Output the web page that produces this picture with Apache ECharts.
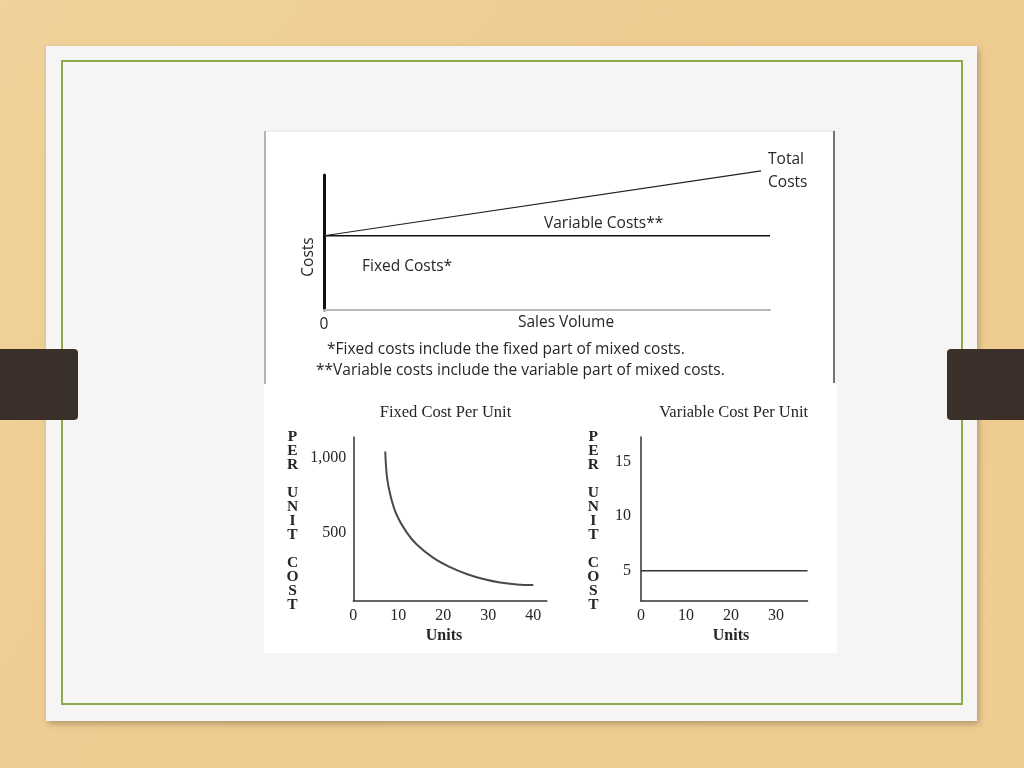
<!DOCTYPE html>
<html>
<head>
<meta charset="utf-8">
<script src="https://cdn.jsdelivr.net/npm/echarts@6/dist/echarts.min.js"></script>
<style>
  html, body { margin: 0; padding: 0; }
  #chart { width: 1024px; height: 768px; }
</style>
</head>
<body>
<div id="chart"></div>
<script>
// top chart: cost behaviour vs sales volume (relative units)
const fixedLineX = [0, 100];
const fixedLineY = [55, 55];
const totalLineX = [0, 98];
const totalLineY = [55, 103];

// fixed cost per unit curve
const fixedUnits = [7.1, 7.5, 8.3, 9.6, 11.9, 14.1, 17.8, 21.5, 25.2, 28.9, 32.6, 36.3, 40];
const fixedPerUnit = [1045, 870, 745, 622, 500, 420, 330, 268, 222, 188, 165, 152, 148];
const fixedXTicks = [0, 10, 20, 30, 40];
const fixedYTicks = [500, 1000];

// variable cost per unit
const varUnits = [0, 37];
const varPerUnit = [5, 5];
const varXTicks = [0, 10, 20, 30];
const varYTicks = [5, 10, 15];

const sans = '"Open Sans", sans-serif';
const serif = '"Liberation Serif", serif';
const ink = '#262626';
const sansSize = 15.5;

const pairs = (xs, ys) => xs.map((x, i) => [x, ys[i]]);

const chart = echarts.init(document.getElementById('chart'));

const txt = (text, x, y, opts) => Object.assign({
  type: 'text', x: x, y: y, z: 20,
  style: Object.assign({ text: text, fill: ink, font: sansSize + 'px ' + sans,
    textAlign: 'left', textVerticalAlign: 'middle' }, (opts && opts.style) || {})
}, opts && opts.el ? opts.el : {});

const vertLabel = 'P\nE\nR\n\nU\nN\nI\nT\n\nC\nO\nS\nT';

const option = {
  animation: false,
  backgroundColor: 'transparent',
  graphic: [
    // wood background
    { type: 'rect', z: -20, shape: { x: 0, y: 0, width: 1024, height: 768 },
      style: { fill: new echarts.graphic.LinearGradient(0, 0, 1, 1, [
        { offset: 0, color: '#f0d39c' }, { offset: 0.5, color: '#eecb8f' }, { offset: 1, color: '#efcd91' }]) } },
    // card
    { type: 'rect', z: -19, shape: { x: 46, y: 46, width: 931, height: 675 },
      style: { fill: '#f5f5f5', shadowBlur: 6, shadowOffsetX: 2, shadowOffsetY: 3, shadowColor: 'rgba(0,0,0,0.25)' } },
    { type: 'rect', z: -18, shape: { x: 62, y: 61, width: 900, height: 643 },
      style: { fill: 'none', stroke: '#8aab45', lineWidth: 2 } },
    // picture panels
    { type: 'rect', z: -17, shape: { x: 264, y: 383, width: 573, height: 270 }, style: { fill: '#ffffff' } },
    { type: 'rect', z: -17, shape: { x: 265, y: 131, width: 570, height: 253 }, style: { fill: '#ffffff' } },
    { type: 'line', z: -16, shape: { x1: 265, y1: 131, x2: 265, y2: 384 }, style: { stroke: '#9a9a9a', lineWidth: 1.5 } },
    { type: 'line', z: -16, shape: { x1: 265, y1: 131, x2: 835, y2: 131 }, style: { stroke: '#e2e2e2', lineWidth: 1 } },
    { type: 'line', z: -16, shape: { x1: 834, y1: 131, x2: 834, y2: 383 }, style: { stroke: '#444444', lineWidth: 1.5 } },
    // side tabs
    { type: 'rect', z: 30, shape: { x: 0, y: 349, width: 78, height: 71, r: [0, 4, 4, 0] }, style: { fill: '#3a3029' } },
    { type: 'rect', z: 30, shape: { x: 947, y: 349, width: 77, height: 71, r: [4, 0, 0, 4] }, style: { fill: '#3a3029' } },

    // top chart texts
    txt('Variable Costs**', 544, 224),
    txt('Fixed Costs*', 362, 267),
    txt('Costs', 309, 257, { el: { rotation: Math.PI / 2 }, style: { textAlign: 'center' } }),
    txt('Sales Volume', 566, 323, { style: { textAlign: 'center' } }),
    txt('*Fixed costs include the fixed part of mixed costs.', 327, 350),
    txt('**Variable costs include the variable part of mixed costs.', 316, 371),

    // bottom chart texts
    txt('Fixed Cost Per Unit', 445.5, 413, { style: { textAlign: 'center', font: '16.5px ' + serif } }),
    txt('Variable Cost Per Unit', 733.7, 413, { style: { textAlign: 'center', font: '16.5px ' + serif } }),
    txt('Units', 444, 636, { style: { textAlign: 'center', font: 'bold 16px ' + serif } }),
    txt('Units', 731, 636, { style: { textAlign: 'center', font: 'bold 16px ' + serif } }),
    txt(vertLabel, 292.5, 430, { style: { textAlign: 'center', textVerticalAlign: 'top', font: 'bold 15.5px ' + serif, lineHeight: 14 } }),
    txt(vertLabel, 593.3, 430, { style: { textAlign: 'center', textVerticalAlign: 'top', font: 'bold 15.5px ' + serif, lineHeight: 14 } })
  ],
  grid: [
    { left: 324, top: 175, width: 446, height: 135 },
    { left: 353.3, top: 437, width: 193.5, height: 163.5 },
    { left: 641, top: 437, width: 166.5, height: 164 }
  ],
  xAxis: [
    { type: 'value', gridIndex: 0, min: 0, max: 100,
      axisLine: { onZero: false, lineStyle: { color: '#b8b8b8', width: 2 } },
      axisTick: { show: false }, splitLine: { show: false },
      axisLabel: { customValues: [0], margin: 7, color: ink, fontFamily: sans, fontSize: sansSize } },
    { type: 'value', gridIndex: 1, min: 0, max: 43,
      axisLine: { onZero: false, lineStyle: { color: '#333', width: 1.5 } },
      axisTick: { show: false }, splitLine: { show: false },
      axisLabel: { customValues: fixedXTicks, margin: 7, color: ink, fontFamily: serif, fontSize: 16 } },
    { type: 'value', gridIndex: 2, min: 0, max: 37,
      axisLine: { onZero: false, lineStyle: { color: '#333', width: 1.5 } },
      axisTick: { show: false }, splitLine: { show: false },
      axisLabel: { customValues: varXTicks, margin: 7, color: ink, fontFamily: serif, fontSize: 16 } }
  ],
  yAxis: [
    { type: 'value', gridIndex: 0, min: 0, max: 100,
      axisLine: { show: true, onZero: false, lineStyle: { color: '#111', width: 3 } },
      axisTick: { show: false }, splitLine: { show: false }, axisLabel: { show: false } },
    { type: 'value', gridIndex: 1, min: 44, max: 1143,
      axisLine: { show: true, onZero: false, lineStyle: { color: '#333', width: 1.5 } },
      axisTick: { show: false }, splitLine: { show: false },
      axisLabel: { customValues: fixedYTicks, margin: 7, color: ink, fontFamily: serif, fontSize: 16,
        formatter: v => v.toLocaleString('en-US') } },
    { type: 'value', gridIndex: 2, min: 2.22, max: 17.27,
      axisLine: { show: true, onZero: false, lineStyle: { color: '#333', width: 1.5 } },
      axisTick: { show: false }, splitLine: { show: false },
      axisLabel: { customValues: varYTicks, margin: 10, color: ink, fontFamily: serif, fontSize: 16 } }
  ],
  series: [
    { name: 'Fixed Costs', type: 'line', xAxisIndex: 0, yAxisIndex: 0, data: pairs(fixedLineX, fixedLineY),
      symbol: 'none', lineStyle: { color: '#111', width: 1.5 } },
    { name: 'Total Costs', type: 'line', xAxisIndex: 0, yAxisIndex: 0, data: pairs(totalLineX, totalLineY),
      symbol: 'none', clip: false, lineStyle: { color: '#222', width: 1.2 },
      endLabel: { show: true, formatter: 'Total\nCosts', distance: 7, color: ink,
        fontFamily: sans, fontSize: sansSize, lineHeight: 23, align: 'left', verticalAlign: 'middle' } },
    { name: 'Fixed Cost Per Unit', type: 'line', xAxisIndex: 1, yAxisIndex: 1, data: pairs(fixedUnits, fixedPerUnit),
      symbol: 'none', smooth: 0.4, lineStyle: { color: '#4a4a4a', width: 2 } },
    { name: 'Variable Cost Per Unit', type: 'line', xAxisIndex: 2, yAxisIndex: 2, data: pairs(varUnits, varPerUnit),
      symbol: 'none', lineStyle: { color: '#333', width: 1.5 } }
  ]
};

chart.setOption(option);
</script>
</body>
</html>
